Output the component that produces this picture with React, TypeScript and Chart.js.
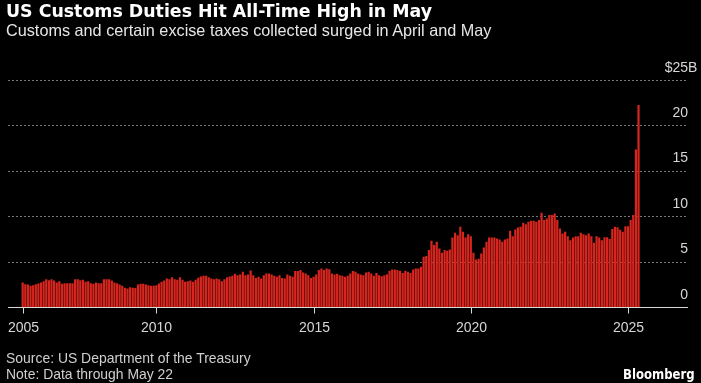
import React, { useEffect, useLayoutEffect, useRef } from "react";
import { Chart, registerables } from "chart.js";

Chart.register(...registerables);

// ---- Text ----
const titleText = "US Customs Duties Hit All-Time High in May";
const subtitleText = "Customs and certain excise taxes collected surged in April and May";
const sourceText = "Source: US Department of the Treasury";
const noteText = "Note: Data through May 22";
const brandText = "Bloomberg";

// ---- Data: monthly customs duties, $ billions (first month: Oct 2005) ----
const firstMonth = "2005-10";
const duties2005 = [2.76, 2.57, 2.53];
const duties2006 = [2.39, 2.46, 2.57, 2.64, 2.76, 2.9, 3.12, 3.01, 3.12, 2.97, 2.76, 2.9];
const duties2007 = [2.61, 2.68, 2.68, 2.68, 2.68, 3.12, 3.12, 3.01, 3.05, 2.83, 2.9, 2.68];
const duties2008 = [2.61, 2.76, 2.68, 2.68, 3.12, 3.12, 3.12, 2.97, 2.76, 2.68, 2.53, 2.39];
const duties2009 = [2.17, 2.09, 2.24, 2.17, 2.15, 2.53, 2.61, 2.61, 2.53, 2.46, 2.39, 2.39];
const duties2010 = [2.46, 2.64, 2.83, 2.97, 3.19, 3.12, 3.34, 3.12, 3.05, 3.34, 3.05, 2.83];
const duties2011 = [2.9, 2.97, 2.83, 3.05, 3.27, 3.42, 3.49, 3.49, 3.34, 3.19, 3.12, 3.19];
const duties2012 = [3.12, 2.9, 3.12, 3.34, 3.42, 3.49, 3.71, 3.56, 3.64, 3.93, 3.56, 3.64];
const duties2013 = [4.08, 3.56, 3.26, 3.38, 3.19, 3.56, 3.75, 3.75, 3.64, 3.49, 3.38, 3.56];
const duties2014 = [3.26, 3.19, 3.64, 3.49, 3.38, 4.01, 4.01, 4.12, 3.86, 3.75, 3.56, 3.26];
const duties2015 = [3.38, 3.64, 4.12, 4.3, 4.12, 4.3, 4.22, 3.75, 3.64, 3.71, 3.56, 3.49];
const duties2016 = [3.38, 3.49, 3.75, 4.01, 3.93, 3.75, 3.64, 3.56, 3.86, 3.93, 3.75, 3.49];
const duties2017 = [3.8, 3.56, 3.45, 3.56, 3.67, 4.04, 4.19, 4.19, 4.12, 4.04, 3.81, 4.04];
const duties2018 = [3.93, 3.81, 4.19, 4.3, 4.3, 4.48, 5.58, 5.66, 6.32, 7.35, 6.87, 7.24];
const duties2019 = [6.5, 6.03, 6.32, 6.25, 6.4, 7.72, 8.23, 7.97, 8.89, 8.34, 7.72, 8.08];
const duties2020 = [7.86, 6.03, 5.29, 5.36, 5.95, 6.62, 7.24, 7.72, 7.72, 7.72, 7.6, 7.5];
const duties2021 = [7.24, 7.5, 7.6, 8.45, 7.86, 8.6, 8.82, 8.89, 9.33, 9.18, 9.44, 9.55];
const duties2022 = [9.55, 9.44, 9.63, 10.43, 9.63, 9.81, 10.18, 10.18, 10.36, 9.63, 8.71, 8.16];
const duties2023 = [8.34, 7.86, 7.42, 7.72, 7.86, 7.86, 8.23, 8.08, 7.97, 8.16, 7.86, 7.12];
const duties2024 = [7.86, 7.72, 7.42, 7.75, 7.75, 7.55, 8.65, 8.9, 8.85, 8.55, 8.34, 8.96];
const duties2025 = [8.96, 9.63, 10.18, 17.4, 22.3];

const customsDuties = [
  ...duties2005, ...duties2006, ...duties2007, ...duties2008, ...duties2009,
  ...duties2010, ...duties2011, ...duties2012, ...duties2013, ...duties2014,
  ...duties2015, ...duties2016, ...duties2017, ...duties2018, ...duties2019,
  ...duties2020, ...duties2021, ...duties2022, ...duties2023, ...duties2024,
  ...duties2025,
];

// ---- Axes ----
const xTickMonths = ["2005-10", "2010-01", "2015-01", "2020-01", "2025-01"];
const xTickLabels = ["2005", "2010", "2015", "2020", "2025"];
const xAxisStart = "2005-04";
const xAxisEnd = "2026-11";
const yTickValues = [0, 5, 10, 15, 20, 25];
const yUnitPrefix = "$";
const yUnitSuffix = "B";

function monthIndex(ym: string): number {
  const [y0, m0] = firstMonth.split("-").map(Number);
  const [y, m] = ym.split("-").map(Number);
  return (y - y0) * 12 + (m - m0);
}

const FONT_SANS = '"Liberation Sans", Arial, sans-serif';
const FONT_BOLD = '"DejaVu Sans", Verdana, sans-serif';

type FitProps = {
  text: string;
  left: number;
  baseline: number;
  size: number;
  family: string;
  weight?: number;
  color: string;
  width: number;
};

function FitText({ text, left, baseline, size, family, weight = 400, color, width }: FitProps) {
  const ref = useRef<HTMLSpanElement>(null);
  useLayoutEffect(() => {
    const el = ref.current;
    if (!el) return;
    el.style.transform = "none";
    const w = el.offsetWidth;
    if (w > 0) el.style.transform = `scaleX(${width / w})`;
  }, [text, width]);
  return (
    <span
      ref={ref}
      style={{
        position: "absolute",
        left,
        top: baseline - 0.846 * size,
        fontFamily: family,
        fontSize: size,
        fontWeight: weight,
        lineHeight: `${size}px`,
        whiteSpace: "nowrap",
        transformOrigin: "0 0",
        color,
      }}
    >
      {text}
    </span>
  );
}

const axisLabelsPlugin = {
  id: "axisLabels",
  afterDraw(chart: any) {
    const { ctx, chartArea, scales } = chart;
    const x = scales.x;
    const y = scales.y;
    ctx.save();
    ctx.font = `14px ${FONT_SANS}`;
    ctx.fillStyle = "#d6d6d6";
    ctx.strokeStyle = "#d8d8d8";
    ctx.lineWidth = 1;
    ctx.textBaseline = "alphabetic";
    xTickMonths.forEach((m, k) => {
      const px = Math.round(x.getPixelForValue(monthIndex(m))) + 0.5;
      ctx.beginPath();
      ctx.moveTo(px, chartArea.bottom);
      ctx.lineTo(px, chartArea.bottom + 6);
      ctx.stroke();
      ctx.textAlign = "center";
      ctx.fillText(xTickLabels[k], px, chartArea.bottom + 24.3);
    });
    const rightX = chartArea.right + 1;
    yTickValues.forEach((v) => {
      const py = y.getPixelForValue(v);
      const top = v === yTickValues[yTickValues.length - 1];
      ctx.textAlign = "right";
      ctx.fillText(top ? `${yUnitPrefix}${v}` : String(v), rightX, py - 9);
      if (top) {
        ctx.textAlign = "left";
        ctx.fillText(yUnitSuffix, rightX, py - 9);
      }
    });
    ctx.restore();
  },
};

export default function App() {
  const canvasRef = useRef<HTMLCanvasElement>(null);

  useEffect(() => {
    document.body.style.background = "#000";
    const canvas = canvasRef.current;
    if (!canvas) return;
    const chart = new Chart(canvas, {
      type: "bar",
      data: {
        datasets: [
          {
            data: customsDuties.map((v, i) => ({ x: i, y: v })),
            backgroundColor: "#d8261f",
            borderWidth: 0,
            barPercentage: 0.84,
            categoryPercentage: 1,
          },
        ],
      },
      options: {
        animation: false,
        responsive: false,
        devicePixelRatio: 1,
        layout: { padding: { left: 8, right: 14, top: 80.5, bottom: 75.5 } },
        plugins: { legend: { display: false }, tooltip: { enabled: false } },
        scales: {
          x: {
            type: "linear",
            min: monthIndex(xAxisStart) + 0.4,
            max: monthIndex(xAxisEnd) + 0.5,
            offset: false,
            z: 1,
            grid: { display: false, drawTicks: false },
            border: { display: true, color: "#d8d8d8", width: 1 },
            ticks: { display: false },
          },
          y: {
            position: "right",
            min: yTickValues[0],
            max: yTickValues[yTickValues.length - 1],
            z: 1,
            ticks: { display: false, stepSize: 5 },
            grid: {
              drawTicks: false,
              lineWidth: 1,
              color: (c: any) =>
                c.tick && c.tick.value === 0 ? "rgba(0,0,0,0)" : "rgba(140,140,140,0.85)",
            },
            border: { display: false, dash: [2, 2] },
          },
        },
      },
      plugins: [axisLabelsPlugin],
    });
    return () => chart.destroy();
  }, []);

  return (
    <div
      style={{
        position: "fixed",
        left: 0,
        top: 0,
        width: 701,
        height: 383,
        background: "#000",
        overflow: "hidden",
      }}
    >
      <canvas
        ref={canvasRef}
        width={701}
        height={383}
        style={{ position: "absolute", left: 0, top: 0, width: 701, height: 383 }}
      />
      <FitText text={titleText} left={6} baseline={17.3} size={17} family={FONT_BOLD} weight={700} color="#ffffff" width={426} />
      <FitText text={subtitleText} left={6} baseline={36} size={16.5} family={FONT_SANS} color="#e6e6e6" width={485} />
      <FitText text={sourceText} left={6} baseline={363} size={14.5} family={FONT_SANS} color="#cfcfcf" width={245} />
      <FitText text={noteText} left={6} baseline={379} size={14.5} family={FONT_SANS} color="#cfcfcf" width={167} />
      <FitText text={brandText} left={623} baseline={379} size={13.5} family={FONT_BOLD} weight={700} color="#ffffff" width={72} />
    </div>
  );
}
